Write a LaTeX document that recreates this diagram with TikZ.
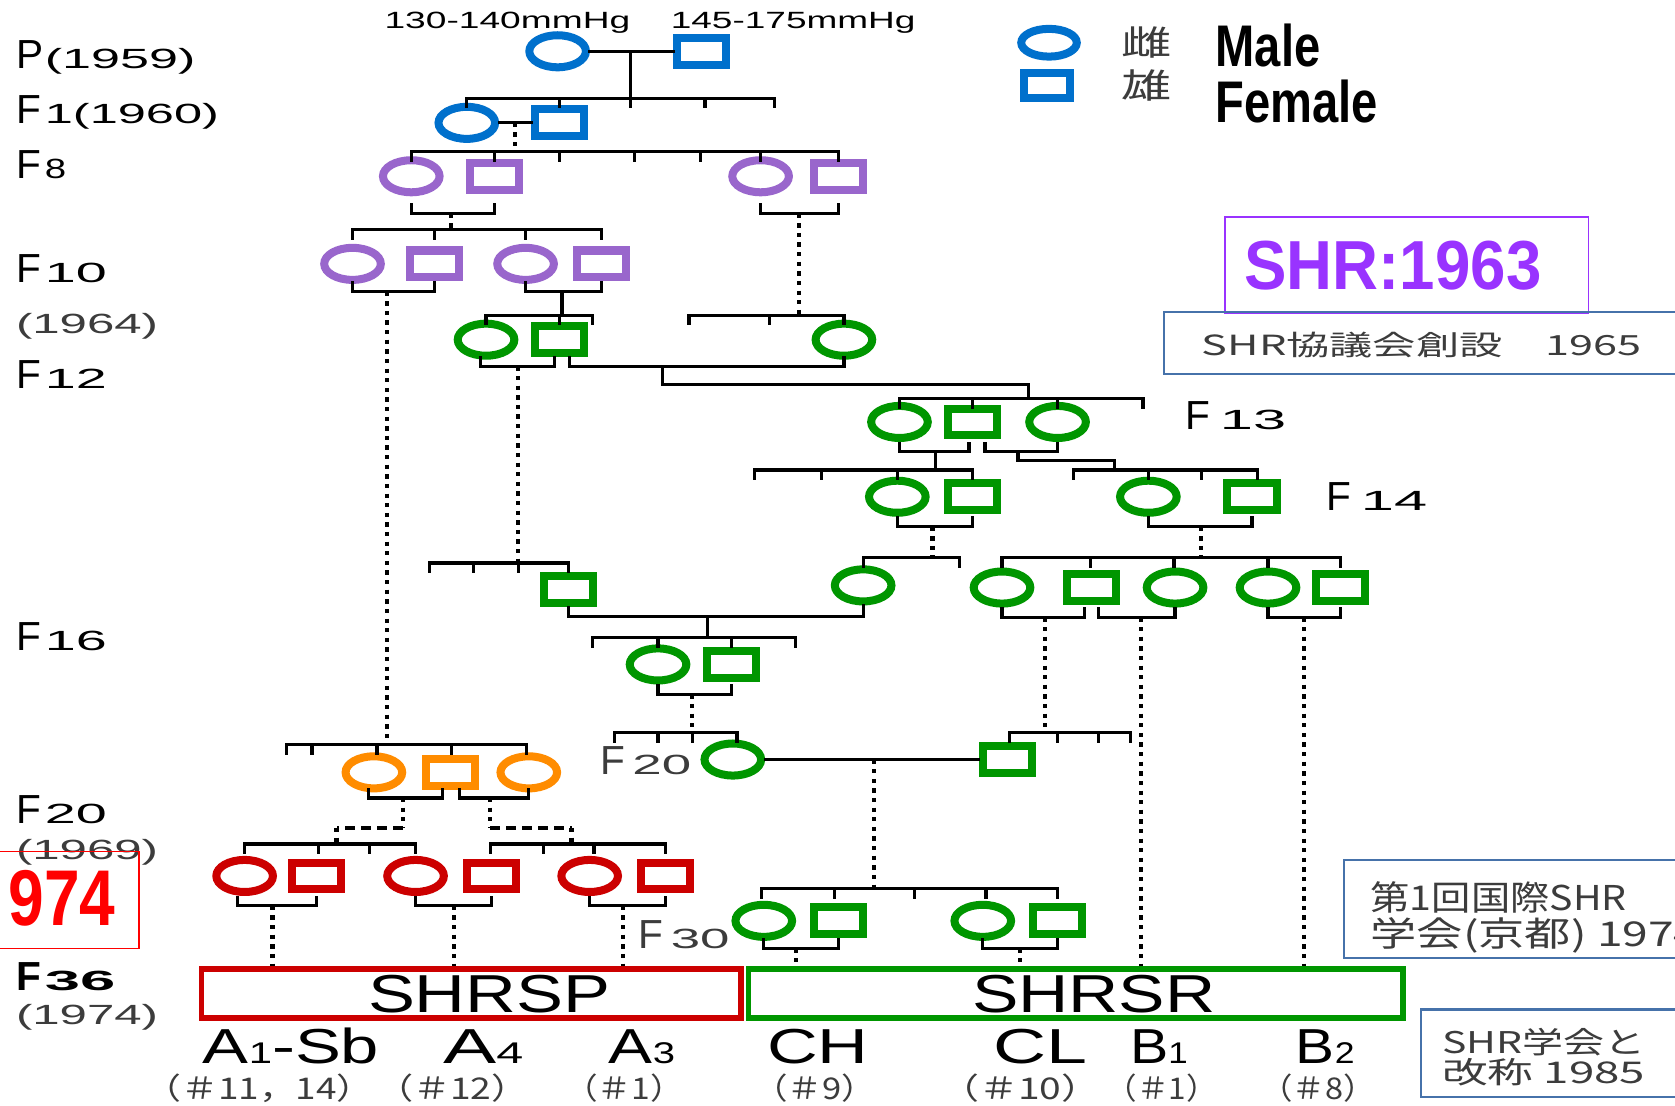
\documentclass[tikz,border=0pt]{standalone}
\usepackage{fontspec}
\usepackage{graphicx}
\setmainfont{Liberation Sans}
\newfontfamily\jp{Noto Sans CJK JP}
\usetikzlibrary{shapes.geometric}
\definecolor{cBlue}{RGB}{0,112,204}
\definecolor{cPurp}{RGB}{153,102,204}
\definecolor{cGreen}{RGB}{0,150,0}
\definecolor{cOrange}{RGB}{255,140,0}
\definecolor{cRed}{RGB}{204,0,0}
\definecolor{cBoxBlue}{RGB}{70,114,170}
\definecolor{cPurpT}{RGB}{153,51,255}
\definecolor{cGrayT}{RGB}{60,60,60}
\newcommand\fs[1]{\fontsize{#1}{#1}\selectfont}
\newcommand\wbox[2]{\resizebox{#1}{\height}{#2}}
\newcommand\sibbar[4]{\draw[ln] (#2,#1) -- (#3,#1);
  \foreach \tx in {#4}{\draw[ln] (\tx,#1) -- (\tx,#1+8);}}
\newcommand\pairbr[3]{\draw[ln] (#1 |- 0,#3-8) -- (#1 |- 0,#3) -- (#2 |- 0,#3) -- (#2 |- 0,#3-8);}
\tikzset{
  ln/.style={line width=3pt, line cap=rect},
  dotl/.style={line width=4pt, dash pattern=on 4pt off 5pt},
  dashl/.style={line width=3.5pt, dash pattern=on 9pt off 6pt},
  fem/.style={ellipse, draw, line width=7.5pt, minimum width=53pt, minimum height=30pt, inner sep=0pt},
  mal/.style={rectangle, draw, line width=7.5pt, minimum width=46pt, minimum height=25pt, inner sep=0pt},
  txt/.style={anchor=base west, inner sep=0pt, outer sep=0pt},
  ptxt/.style={anchor=base west, inner sep=0pt, outer sep=0pt, text height=18pt, text depth=3pt, text=cGrayT},
  ctxt/.style={anchor=center, inner sep=0pt, outer sep=0pt},
  infobox/.style={draw=cBoxBlue, line width=2pt},
}
\begin{document}
\begin{tikzpicture}[x=1pt,y=-1pt]
\useasboundingbox (0,0) rectangle (1568,1035);
\clip (0,0) rectangle (1568,1035);
\fill[white] (0,0) rectangle (1568,1035);

% ---------- left generation labels ----------
\node[txt] (lP) at (15,64) {\fs{38}P};
\node[txt] (lPy) at (42,64) {\wbox{141pt}{\fs{26}(1959)}};
\node[txt] (lF1) at (15,116) {\fs{38}F};
\node[txt] (lF1y) at (42,116) {\wbox{163pt}{\fs{26}1(1960)}};
\node[txt] (lF8) at (15,167) {\fs{38}F};
\node[txt] (lF8y) at (42,167) {\wbox{20pt}{\fs{26}8}};
\node[txt] (lF10) at (15,264) {\fs{38}F};
\node[txt] (lF10y) at (42,264) {\wbox{58pt}{\fs{26}10}};
\node[txt,text=cGrayT] (l1964) at (15,312) {\wbox{133pt}{\fs{26}(1964)}};
\node[txt] (lF12) at (15,364) {\fs{38}F};
\node[txt] (lF12y) at (42,364) {\wbox{58pt}{\fs{26}12}};
\node[txt] (lF16) at (15,609) {\fs{38}F};
\node[txt] (lF16y) at (42,609) {\wbox{58pt}{\fs{26}16}};
\node[txt] (lF20) at (15,771) {\fs{38}F};
\node[txt] (lF20y) at (42,771) {\wbox{58pt}{\fs{26}20}};
\node[txt,text=cGrayT] (l1969) at (15,805) {\wbox{133pt}{\fs{26}(1969)}};
\node[txt] (lF36) at (15,927) {\fs{38}\bfseries F};
\node[txt] (lF36y) at (42,927) {\wbox{66pt}{\fs{26}\bfseries 36}};
\node[txt,text=cGrayT] (l1974) at (15,959) {\wbox{133pt}{\fs{26}(1974)}};

% red 1974 box
\draw[red, line width=1.5pt] (-5,797) rectangle (130,888);
\node[txt,text=red] (t974) at (8,866) {\wbox{100pt}{\fs{74}\bfseries 974}};

% ---------- top texts and legend ----------
\node[txt] (mm1) at (360,27) {\wbox{230pt}{\fs{22}130-140mmHg}};
\node[txt] (mm2) at (628,27) {\wbox{229pt}{\fs{22}145-175mmHg}};
\node[fem, draw=cBlue, minimum width=52pt, minimum height=26pt] (legc) at (982,40) {};
\node[mal, draw=cBlue, minimum width=43pt, minimum height=23pt] (legs) at (980,80) {};
\node[ctxt,text=cGrayT] (legf) at (1073,40) {\wbox{47pt}{\jp\fs{32}雌}};
\node[ctxt,text=cGrayT] (legm) at (1073,80) {\wbox{47pt}{\jp\fs{32}雄}};
\node[txt] (male) at (1138,62) {\wbox{98pt}{\fs{55}\bfseries Male}};
\node[txt] (female) at (1138,115) {\wbox{152pt}{\fs{55}\bfseries Female}};

% ---------- info boxes ----------
\draw[draw=cPurpT, line width=1.5pt] (1147,203) rectangle (1487,293);
\node[txt,text=cPurpT] (shr63) at (1165,271) {\wbox{278pt}{\fs{65}\bfseries SHR:1963}};
\draw[infobox] (1090,292) rectangle (1590,350);
\node[txt,text=cGrayT] (shr65) at (1125,333) {\wbox{412pt}{\jp\fs{26}SHR協議会創設　1965}};
\draw[infobox] (1258,805) rectangle (1590,897);
\node[txt,text=cGrayT] (intl1) at (1283,852) {\scalebox{1.15}[1]{\jp\fs{32}第1回国際SHR}};
\node[txt,text=cGrayT] (intl2) at (1283,886) {\wbox{308pt}{\jp\fs{32}学会(京都) 1974}};
\draw[infobox] (1330,945) rectangle (1590,1027);
\node[txt,text=cGrayT] (ren1) at (1350,986) {\wbox{190pt}{\jp\fs{28}SHR学会と}};
\node[txt,text=cGrayT] (ren2) at (1350,1014) {\wbox{190pt}{\jp\fs{28}改称 1985}};

% ---------- symbols ----------
% P, F1 (blue)
\node[fem, draw=cBlue] (p1) at (522,48) {};
\node[mal, draw=cBlue] (p2) at (657,48) {};
\node[fem, draw=cBlue] (f1a) at (437,115) {};
\node[mal, draw=cBlue] (f1b) at (524,115) {};
% F8, F10 (purple)
\node[fem, draw=cPurp] (f8a) at (385,165) {};
\node[mal, draw=cPurp] (f8b) at (463,165) {};
\node[fem, draw=cPurp] (f8c) at (712,165) {};
\node[mal, draw=cPurp] (f8d) at (785,165) {};
\node[fem, draw=cPurp] (f10a) at (330,247) {};
\node[mal, draw=cPurp] (f10b) at (407,247) {};
\node[fem, draw=cPurp] (f10c) at (492,247) {};
\node[mal, draw=cPurp] (f10d) at (563,247) {};
% green
\node[fem, draw=cGreen] (f12a) at (455,318) {};
\node[mal, draw=cGreen] (f12b) at (524,318) {};
\node[fem, draw=cGreen] (f12c) at (790,318) {};
\node[fem, draw=cGreen] (f13a) at (842,395) {};
\node[mal, draw=cGreen] (f13b) at (910,395) {};
\node[fem, draw=cGreen] (f13c) at (990,395) {};
\node[fem, draw=cGreen] (f14a) at (840,465) {};
\node[mal, draw=cGreen] (f14b) at (910,465) {};
\node[fem, draw=cGreen] (f14c) at (1075,465) {};
\node[mal, draw=cGreen] (f14d) at (1172,465) {};
\node[mal, draw=cGreen] (f16a) at (532,552) {};
\node[fem, draw=cGreen] (f16b) at (808,548) {};
\node[fem, draw=cGreen] (f16c) at (938,550) {};
\node[mal, draw=cGreen] (f16d) at (1022,550) {};
\node[fem, draw=cGreen] (f16e) at (1100,550) {};
\node[fem, draw=cGreen] (f16f) at (1187,550) {};
\node[mal, draw=cGreen] (f16g) at (1255,550) {};
\node[fem, draw=cGreen] (f17a) at (616,622) {};
\node[mal, draw=cGreen] (f17b) at (685,622) {};
\node[fem, draw=cGreen] (f20a) at (686,711) {};
\node[mal, draw=cGreen] (f20b) at (943,711) {};
\node[fem, draw=cGreen] (f30a) at (715,862) {};
\node[mal, draw=cGreen] (f30b) at (785,862) {};
\node[fem, draw=cGreen] (f30c) at (920,862) {};
\node[mal, draw=cGreen] (f30d) at (990,862) {};
% orange
\node[fem, draw=cOrange] (o1) at (350,723) {};
\node[mal, draw=cOrange] (o2) at (422,723) {};
\node[fem, draw=cOrange] (o3) at (495,723) {};
% red
\node[fem, draw=cRed] (r1) at (229,820) {};
\node[mal, draw=cRed] (r2) at (296,820) {};
\node[fem, draw=cRed] (r3) at (389,820) {};
\node[mal, draw=cRed] (r4) at (460,820) {};
\node[fem, draw=cRed] (r5) at (552,820) {};
\node[mal, draw=cRed] (r6) at (623,820) {};

% middle labels
\node[txt,text=cGrayT] (lF20m) at (562,725) {\fs{38}F};
\node[txt,text=cGrayT] (lF20my) at (592,725) {\wbox{55pt}{\fs{26}20}};
\node[txt,text=cGrayT] (lF30) at (598,888) {\fs{38}F};
\node[txt,text=cGrayT] (lF30y) at (628,888) {\wbox{55pt}{\fs{26}30}};
\node[txt] (lF13) at (1110,402) {\fs{38}F};
\node[txt] (lF13y) at (1142,402) {\wbox{62pt}{\fs{26}13}};
\node[txt] (lF14) at (1242,478) {\fs{38}F};
\node[txt] (lF14y) at (1274,478) {\wbox{62pt}{\fs{26}14}};

% ---------- strain boxes ----------
\node[draw=cRed, line width=5pt, minimum width=505pt, minimum height=46pt, inner sep=0pt] (shrsp) at (441,930) {};
\node[draw=cGreen, line width=5pt, minimum width=613pt, minimum height=46pt, inner sep=0pt] (shrsr) at (1007,930) {};
\node[ctxt] (tsp) at (458,931) {\wbox{227pt}{\fs{50}SHRSP}};
\node[ctxt] (tsr) at (1024,931) {\wbox{228pt}{\fs{50}SHRSR}};

% bottom labels
\node[txt] (bA1) at (190,996) {\wbox{165pt}{\fs{46}A\fs{28}1\fs{46}-Sb}};
\node[txt] (bA4) at (415,996) {\wbox{75pt}{\fs{46}A\fs{28}4}};
\node[txt] (bA3) at (570,996) {\wbox{62pt}{\fs{46}A\fs{28}3}};
\node[txt] (bCH) at (718,996) {\wbox{95pt}{\fs{46}CH}};
\node[txt] (bCL) at (930,996) {\wbox{88pt}{\fs{46}CL}};
\node[txt] (bB1) at (1058,996) {\wbox{54pt}{\fs{46}B\fs{28}1}};
\node[txt] (bB2) at (1213,996) {\wbox{55pt}{\fs{46}B\fs{28}2}};
\node[ptxt] (n1) at (135,1029) {\wbox{215pt}{\jp\fs{28}（＃11，14）}};
\node[ptxt] (n2) at (352,1029) {\wbox{143pt}{\jp\fs{28}（＃12）}};
\node[ptxt] (n3) at (528,1029) {\wbox{112pt}{\jp\fs{28}（＃1）}};
\node[ptxt] (n4) at (705,1029) {\wbox{115pt}{\jp\fs{28}（＃9）}};
\node[ptxt] (n5) at (880,1029) {\wbox{150pt}{\jp\fs{28}（＃10）}};
\node[ptxt] (n6) at (1035,1029) {\wbox{105pt}{\jp\fs{28}（＃1）}};
\node[ptxt] (n7) at (1180,1029) {\wbox{108pt}{\jp\fs{28}（＃8）}};

% ---------- connectors ----------
% P -> F1
\draw[ln] (p1.east) -- (p2.west);
\draw[ln] (590,48) -- (590,92);
\sibbar{92}{437}{725}{437,524,590,660,725}
% F1 -> F8
\draw[ln] (f1a.east) -- (f1b.west);
\draw[dotl] (482,115) -- (482,142);
\sibbar{142}{385}{785}{385,463,524,594,656,712,785}
% F8 -> F10 / F12
\pairbr{f8a}{f8b}{200}
\pairbr{f8c}{f8d}{200}
\draw[dotl] (422,200) -- (422,215);
\draw[dotl] (748,200) -- (748,295);
\sibbar{215}{330}{563}{330,407,492,563}
% F10 -> ...
\pairbr{f10a}{f10b}{273}
\pairbr{f10c}{f10d}{273}
\draw[dotl] (362,273) -- (362,697);
\draw[ln] (526,273) -- (526,295);
\sibbar{295}{455}{555}{455,524,555}
\sibbar{295}{645}{790}{645,720,790}
% F12 -> F13
\draw[ln] ([xshift=-5pt]f12a |- 0,335) -- ([xshift=-5pt]f12a |- 0,343) -- ([xshift=-5pt]f12b |- 0,343) -- ([xshift=-5pt]f12b |- 0,335);
\draw[ln] ([xshift=9pt]f12b |- 0,335) -- ([xshift=9pt]f12b |- 0,343) -- (f12c |- 0,343) -- (f12c |- 0,335);
\draw[dotl] (485,343) -- (485,527);
\draw[ln] (620,343) -- (620,360) -- (963,360) -- (963,373);
\sibbar{373}{842}{1070}{842,910,990,1070}
% F13 -> F14
\draw[ln] (f13a |- 0,415) -- (f13a |- 0,423) -- ([xshift=-3pt]f13b |- 0,423) -- ([xshift=-3pt]f13b |- 0,415);
\draw[ln] ([xshift=12pt]f13b |- 0,415) -- ([xshift=12pt]f13b |- 0,423) -- (f13c |- 0,423) -- (f13c |- 0,415);
\draw[ln] (876,423) -- (876,440);
\draw[ln] (953,423) -- (953,431) -- (1043,431) -- (1043,440);
\sibbar{440}{706}{910}{706,769,840,910}
\sibbar{440}{1005}{1177}{1005,1075,1125,1177}
% F14 -> F16
\pairbr{f14a}{f14b}{493}
\pairbr{f14c}{f14d}{493}
\draw[dotl] (873,493) -- (873,522);
\draw[dotl] (1124,493) -- (1124,522);
\sibbar{522}{808}{898}{808,898}
\sibbar{522}{938}{1255}{938,1021,1099,1187,1255}
\sibbar{527}{402}{532}{402,443,485,532}
% F16 mating
\draw[ln] (f16a |- 0,569) -- (f16a |- 0,577) -- (f16b |- 0,577) -- (f16b |- 0,567);
\draw[ln] (662,577) -- (662,597);
\sibbar{597}{555}{745}{555,616,685,745}
% F16 right pairs
\draw[ln] (f16c |- 0,570) -- (f16c |- 0,578) -- ([xshift=-7pt]f16d |- 0,578) -- ([xshift=-7pt]f16d |- 0,570);
\draw[ln] ([xshift=6pt]f16d |- 0,570) -- ([xshift=6pt]f16d |- 0,578) -- (f16e |- 0,578) -- (f16e |- 0,570);
\pairbr{f16f}{f16g}{578}
\draw[dotl] (978,578) -- (978,686);
\draw[dotl] (1068,578) -- (1068,578 |- shrsr.north);
\draw[dotl] (1221,578) -- (1221,578 |- shrsr.north);
% F17 -> F20
\pairbr{f17a}{f17b}{650}
\draw[dotl] (648,650) -- (648,686);
\sibbar{686}{575}{690}{575,616,648,690}
\sibbar{686}{945}{1058}{945,990,1028,1058}
\draw[ln] (f20a.east) -- (f20b.west);
\draw[dotl] (818,711) -- (818,832);
\sibbar{832}{713}{990}{713,781,856,923,990}
\pairbr{f30a}{f30b}{888}
\pairbr{f30c}{f30d}{888}
\draw[dotl] (745,888) -- (745,888 |- shrsr.north);
\draw[dotl] (955,888) -- (955,888 |- shrsr.north);
% orange / red
\sibbar{697}{268}{493}{268,292,353,423,493}
\draw[ln] ([xshift=-5pt]o1 |- 0,739) -- ([xshift=-5pt]o1 |- 0,747) -- ([xshift=-8pt]o2 |- 0,747) -- ([xshift=-8pt]o2 |- 0,739);
\draw[ln] ([xshift=8pt]o2 |- 0,739) -- ([xshift=8pt]o2 |- 0,747) -- (o3 |- 0,747) -- (o3 |- 0,739);
\draw[dotl] (377,747) -- (377,775);
\draw[dashl] (377,775) -- (315,775);
\draw[dotl] (315,775) -- (315,790);
\draw[dotl] (459,747) -- (459,775);
\draw[dashl] (459,775) -- (535,775);
\draw[dotl] (535,775) -- (535,790);
\sibbar{790}{229}{389}{229,298,346,389}
\sibbar{790}{459}{623}{459,509,556,623}
\draw[ln] ([xshift=-7pt]r1 |- 0,840) -- ([xshift=-7pt]r1 |- 0,848) -- (r2 |- 0,848) -- (r2 |- 0,840);
\pairbr{r3}{r4}{848}
\pairbr{r5}{r6}{848}
\draw[dotl] (255,848) -- (255,848 |- shrsp.north);
\draw[dotl] (425,848) -- (425,848 |- shrsp.north);
\draw[dotl] (583,848) -- (583,848 |- shrsp.north);
\end{tikzpicture}
\end{document}
